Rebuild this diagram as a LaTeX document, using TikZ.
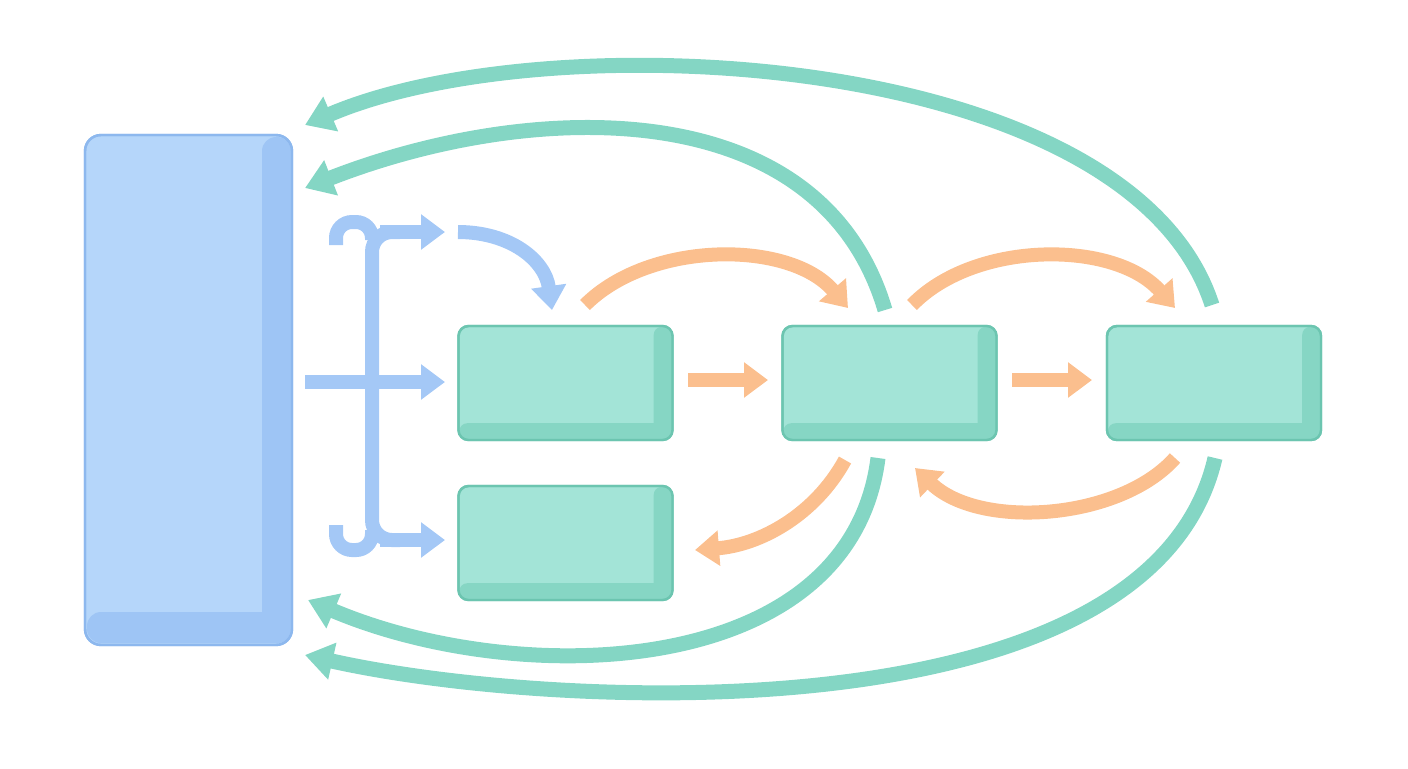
\documentclass[tikz,border=0pt]{standalone}
\usetikzlibrary{arrows.meta,calc}
\definecolor{bfill}{HTML}{B5D6FA}
\definecolor{bdark}{HTML}{9EC5F5}
\definecolor{bline}{HTML}{8DB8EE}
\definecolor{gfill}{HTML}{A3E4D7}
\definecolor{gdark}{HTML}{86D6C4}
\definecolor{gline}{HTML}{6CC5B0}
\definecolor{garr}{HTML}{84D6C4}
\definecolor{oarr}{HTML}{FBBF8E}
\definecolor{barr}{HTML}{A4C8F6}
\begin{document}
\begin{tikzpicture}[x=0.5pt,y=-0.5pt,
 gbox/.style={draw=gline,line width=1.2pt,fill=gfill,rounded corners=5pt,minimum width=107pt,minimum height=57pt,inner sep=0pt},
 garrow/.style={draw=garr,line width=7.5pt,-{Triangle[width=18pt,length=14pt]}},
 oarrow/.style={draw=oarr,line width=7pt,-{Triangle[width=17pt,length=12pt]}},
 barrow/.style={draw=barr,line width=7pt,-{Triangle[width=17pt,length=12pt]}}]
\useasboundingbox (0,0) rectangle (1408,768);
% big blue box
\node[draw=bline,line width=1.2pt,fill=bfill,rounded corners=8pt,minimum width=103.5pt,minimum height=255pt,inner sep=0pt] (L) at (188.5,390) {};
\fill[bdark,rounded corners=7pt] (262,137) rectangle (291,643);
\fill[bdark,rounded corners=7pt] (87,612) rectangle (291,643);
\draw[bline,line width=1.2pt,rounded corners=8pt] (85,135) rectangle (292,645);
% green boxes
\foreach \n/\x/\y in {A/565.5/383, B/565.5/543, C/889.5/383, D/1214/383}{
  \node[gbox] (\n) at (\x,\y) {};
  \fill[gdark,rounded corners=4pt] ($(\n.north east)+(-20,2)$) rectangle ($(\n.south east)+(-2,-2)$);
  \fill[gdark,rounded corners=4pt] ($(\n.south west)+(2,-18)$) rectangle ($(\n.south east)+(-2,-2)$);
  \node[draw=gline,line width=1.2pt,rounded corners=5pt,minimum width=107pt,minimum height=57pt,inner sep=0pt] at (\x,\y) {};
}
% blue bracket
\coordinate (b1) at (445,232); \coordinate (b2) at (445,382); \coordinate (b3) at (445,540);
\draw[barr,line width=7pt,line cap=butt,rounded corners=10pt] (400,232) -- (372,232) -- (372,540) -- (400,540);
\draw[barr,line width=7pt,line cap=butt,rounded corners=8pt] (372,240) -- (372,222) -- (336,222) -- (336,245);
\draw[barr,line width=7pt,line cap=butt,rounded corners=8pt] (372,530) -- (372,550) -- (336,550) -- (336,525);
\draw[barrow] (380,232) -- (b1);
\draw[barrow] (305,382) -- (b2);
\draw[barrow] (380,540) -- (b3);
\coordinate (bc0) at (458,232); \coordinate (bc1) at (552,310);
\draw[barrow] (bc0) .. controls (510,232) and (545,260) .. (bc1);
% orange
\draw[oarrow] (688,380) -- (768,380);
\draw[oarrow] (1012,380) -- (1092,380);
\draw[oarrow] (585,305) .. controls (650,240) and (790,240) .. (848,308);
\draw[oarrow] (912,305) .. controls (975,240) and (1115,240) .. (1175,308);
\draw[oarrow] (1175,458) .. controls (1120,520) and (980,530) .. (915,468);
\draw[oarrow] (845,460) .. controls (815,515) and (760,545) .. (695,550);
% green returns
\coordinate (r1) at (305,125); \coordinate (r2) at (305,188); \coordinate (r3) at (308,600); \coordinate (r4) at (305,655);
\draw[garrow] (1212,305) .. controls (1130,50) and (550,20) .. (r1);
\draw[garrow] (885,310) .. controls (820,90) and (530,100) .. (r2);
\draw[garrow] (878,458) .. controls (850,680) and (520,690) .. (r3);
\draw[garrow] (1215,458) .. controls (1150,740) and (550,710) .. (r4);
\end{tikzpicture}
\end{document}
